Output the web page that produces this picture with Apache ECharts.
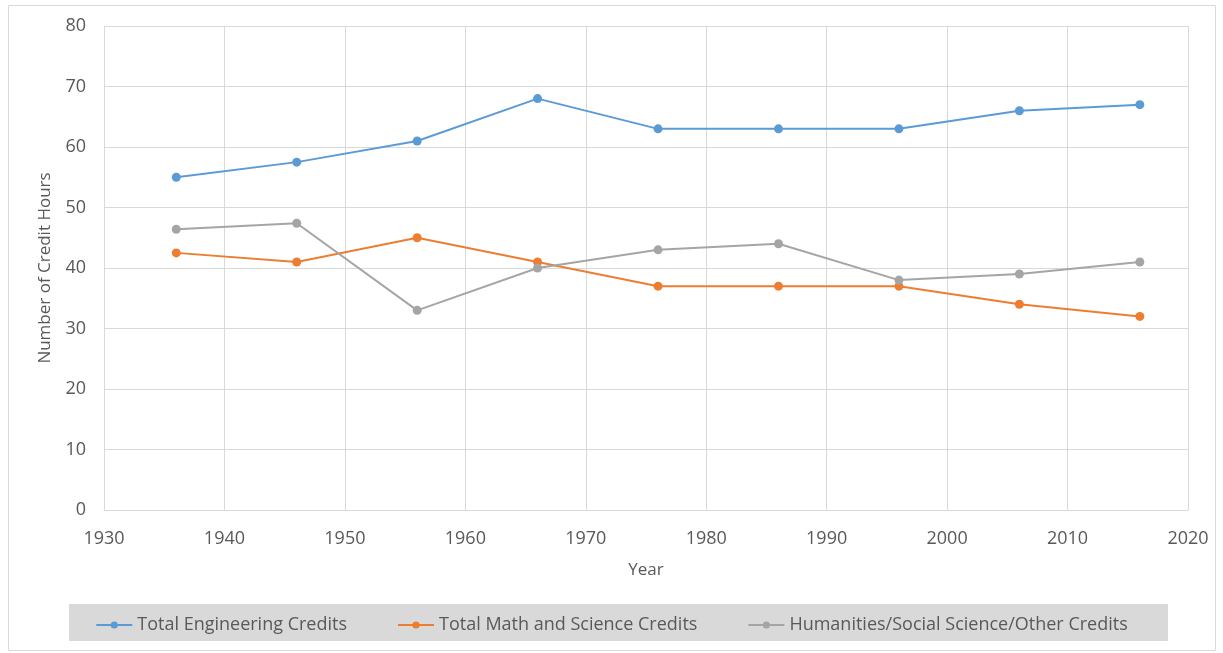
<!DOCTYPE html>
<html>
<head>
<meta charset="utf-8">
<script src="https://cdn.jsdelivr.net/npm/echarts@6/dist/echarts.min.js"></script>
<style>
  html, body { margin: 0; padding: 0; background: #fff; }
  #chart { width: 1223px; height: 653px; }
</style>
</head>
<body>
<div id="chart"></div>
<script>
const years = [1936, 1946, 1956, 1966, 1976, 1986, 1996, 2006, 2016];
const engineering = [55, 57.5, 61, 68, 63, 63, 63, 66, 67];
const mathScience = [42.5, 41, 45, 41, 37, 37, 37, 34, 32];
const humanities = [46.4, 47.4, 33, 40, 43, 44, 38, 39, 41];

const seriesNames = [
  "Total Engineering Credits",
  "Total Math and Science Credits",
  "Humanities/Social Science/Other Credits",
];
const colors = ["#5b9bd5", "#ed7d31", "#a5a5a5"];

const pair = (vals) => years.map((y, i) => [y, vals[i]]);

const chart = echarts.init(document.getElementById("chart"));
const font = "'Open Sans', sans-serif";

const mkSeries = (name, vals, color) => ({
  name: name,
  type: "line",
  data: pair(vals),
  symbol: "circle",
  symbolSize: 9,
  itemStyle: { color: color },
  lineStyle: { color: color, width: 2 },
});

chart.setOption({
  animation: false,
  textStyle: { fontFamily: font },
  graphic: [
    {
      type: "rect",
      shape: { x: 8.5, y: 5.5, width: 1207, height: 645 },
      style: { fill: "none", stroke: "#d9d9d9", lineWidth: 1 },
      z: -10,
    },
    {
      type: "rect",
      shape: { x: 69, y: 604, width: 1099, height: 37 },
      style: { fill: "#d9d9d9" },
      z: -5,
    },
  ],
  grid: { left: 104, right: 35, top: 26, bottom: 143, containLabel: false },
  legend: {
    data: seriesNames,
    top: 611,
    left: "center",
    itemGap: 50,
    itemWidth: 36,
    itemHeight: 9,
    textStyle: { color: "#595959", fontSize: 18, fontFamily: font },
  },
  xAxis: {
    type: "value",
    min: 1930,
    max: 2020,
    interval: 10,
    name: "Year",
    nameLocation: "middle",
    nameGap: 52,
    nameTextStyle: { color: "#595959", fontSize: 17 },
    axisLine: { show: true, lineStyle: { color: "#d9d9d9" } },
    axisTick: { show: false },
    axisLabel: { color: "#595959", fontSize: 18, margin: 20, formatter: (v) => String(v) },
    splitLine: { show: true, lineStyle: { color: "#d9d9d9" } },
  },
  yAxis: {
    type: "value",
    min: 0,
    max: 80,
    interval: 10,
    name: "Number of Credit Hours",
    nameLocation: "middle",
    nameGap: 50,
    nameTextStyle: { color: "#595959", fontSize: 17 },
    axisLine: { show: false },
    axisTick: { show: false },
    axisLabel: { color: "#595959", fontSize: 18, margin: 18 },
    splitLine: { show: true, lineStyle: { color: "#d9d9d9" } },
  },
  series: [
    mkSeries(seriesNames[0], engineering, colors[0]),
    mkSeries(seriesNames[1], mathScience, colors[1]),
    mkSeries(seriesNames[2], humanities, colors[2]),
  ],
});
</script>
</body>
</html>
